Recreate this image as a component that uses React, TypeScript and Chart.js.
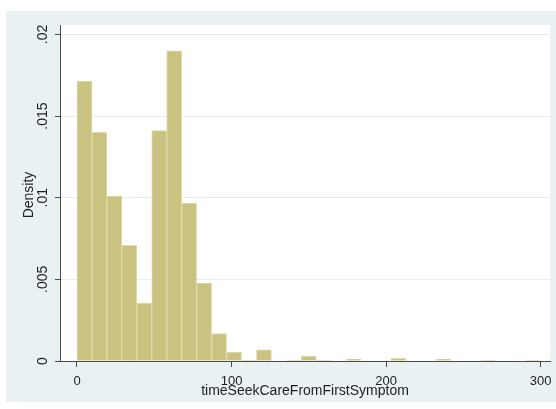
import React, { useEffect, useRef } from "react";
import { Chart, registerables } from "chart.js";

Chart.register(...registerables);

// Histogram of time to seek care (days), 31 equal-width bins from 0 to 300
const binStart = 0;
const binWidth = 300 / 31;
const densities = [
  0.01715, 0.014, 0.0101, 0.00708, 0.00354, 0.01412, 0.019, 0.00968, 0.00477,
  0.00168, 0.00055, 0.00006, 0.00068, 0, 0.00006, 0.0003, 0.00006, 0, 0.00011,
  0, 0, 0.00017, 0, 0, 0.00011, 0, 0, 0.00006, 0, 0, 0.00006,
];
const xTicks = [0, 100, 200, 300];
const xTickLabels = ["0", "100", "200", "300"];
const yTicks = [0, 0.005, 0.01, 0.015, 0.02];
const yTickLabels = ["0", ".005", ".01", ".015", ".02"];
const xTitle = "timeSeekCareFromFirstSymptom";
const yTitle = "Density";

const FONT = '"Liberation Sans", Arial, sans-serif';
const PANEL = "#eaf1f3";
const INK = "#1e1e1e";
const AXIS = "#4a4a4a";

const panelPlugin = {
  id: "panel",
  beforeDraw(chart: any) {
    const { ctx, width, height, chartArea } = chart;
    ctx.save();
    ctx.fillStyle = "#ffffff";
    ctx.fillRect(0, 0, width, height);
    ctx.fillStyle = PANEL;
    ctx.fillRect(6, 11, width - 6, 391);
    ctx.fillStyle = "#ffffff";
    ctx.fillRect(
      chartArea.left,
      chartArea.top,
      chartArea.right - chartArea.left,
      chartArea.bottom - chartArea.top
    );
    ctx.restore();
  },
};

const labelPlugin = {
  id: "stataLabels",
  afterDraw(chart: any) {
    const { ctx, chartArea, scales } = chart;
    const xs = scales.x;
    const ys = scales.y;
    ctx.save();
    ctx.fillStyle = INK;

    // x tick labels
    ctx.font = `13px ${FONT}`;
    ctx.textAlign = "center";
    ctx.textBaseline = "alphabetic";
    xTicks.forEach((v, i) => {
      ctx.fillText(xTickLabels[i], xs.getPixelForValue(v), 385);
    });

    // x title
    ctx.font = `14px ${FONT}`;
    ctx.fillText(xTitle, (chartArea.left + chartArea.right) / 2, 394.5);

    // y tick labels, rotated
    ctx.font = `14px ${FONT}`;
    yTicks.forEach((v, i) => {
      ctx.save();
      ctx.translate(47, ys.getPixelForValue(v));
      ctx.rotate(-Math.PI / 2);
      ctx.textAlign = "center";
      ctx.fillText(yTickLabels[i], 0, 0);
      ctx.restore();
    });

    // y title, rotated
    ctx.font = `14px ${FONT}`;
    ctx.save();
    ctx.translate(33.4, (chartArea.top + chartArea.bottom) / 2 + 2);
    ctx.rotate(-Math.PI / 2);
    ctx.textAlign = "center";
    ctx.fillText(yTitle, 0, 0);
    ctx.restore();

    ctx.restore();
  },
};

export default function App() {
  const ref = useRef<HTMLCanvasElement | null>(null);

  useEffect(() => {
    if (!ref.current) return;
    const points = densities.map((d, i) => ({
      x: binStart + (i + 0.5) * binWidth,
      y: d,
    }));
    const chart = new Chart(ref.current, {
      type: "bar",
      data: {
        datasets: [
          {
            data: points,
            backgroundColor: "rgb(202,194,128)",
            borderColor: "rgb(224,219,168)",
            borderWidth: 1,
            borderSkipped: "bottom",
            categoryPercentage: 1,
            barPercentage: 1,
            grouped: false,
          } as any,
        ],
      },
      options: {
        animation: false,
        responsive: false,
        events: [],
        layout: { padding: { left: 0, right: 6, top: 25, bottom: 0 } },
        plugins: {
          legend: { display: false },
          tooltip: { enabled: false },
        },
        scales: {
          x: {
            type: "linear",
            offset: false,
            min: -11,
            max: 306.1,
            afterBuildTicks: (s: any) => {
              s.ticks = xTicks.map((v) => ({ value: v }));
            },
            afterFit: (s: any) => {
              s.height = 48;
            },
            ticks: { display: false },
            grid: {
              display: true,
              offset: false,
              drawOnChartArea: false,
              drawTicks: true,
              tickLength: 6,
              tickColor: AXIS,
              tickWidth: 1,
            },
            border: { display: true, color: AXIS, width: 1 },
          },
          y: {
            type: "linear",
            min: 0,
            max: 0.02058,
            afterBuildTicks: (s: any) => {
              s.ticks = yTicks.map((v) => ({ value: v }));
            },
            afterFit: (s: any) => {
              s.width = 60;
            },
            ticks: { display: false },
            grid: {
              display: true,
              drawOnChartArea: true,
              color: "#e4edef",
              lineWidth: 1,
              drawTicks: true,
              tickLength: 5,
              tickColor: AXIS,
              tickWidth: 1,
            },
            border: { display: true, color: AXIS, width: 1 },
          },
        },
      } as any,
      plugins: [panelPlugin, labelPlugin],
    });
    return () => chart.destroy();
  }, []);

  return (
    <div style={{ position: "fixed", left: 0, top: 0, width: 556, height: 409 }}>
      <canvas ref={ref} width={556} height={409} style={{ display: "block" }} />
    </div>
  );
}
